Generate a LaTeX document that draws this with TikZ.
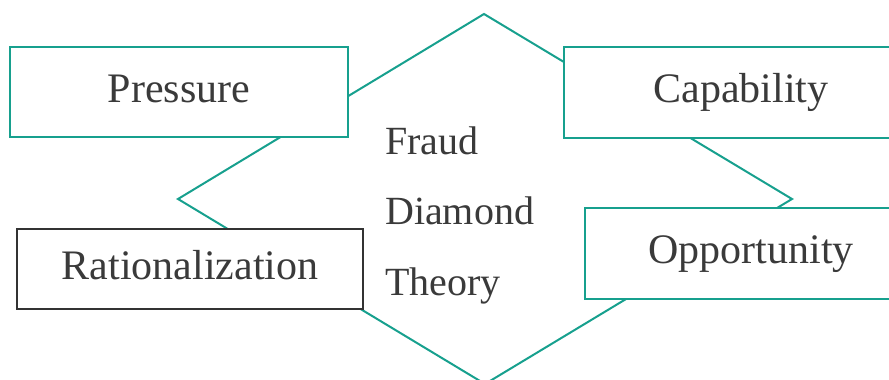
\documentclass[tikz,border=0pt]{standalone}
\usepackage{fontspec}
\setmainfont{Liberation Serif}
\definecolor{diamondline}{HTML}{17A08E}
\definecolor{ink}{HTML}{3A3A3A}
\definecolor{darkframe}{HTML}{333333}
\begin{document}
\begin{tikzpicture}[x=1pt,y=-1pt,
  box/.style={draw=diamondline, line width=2pt, fill=white, inner sep=0pt,
    text=ink, font=\fontsize{42}{50}\selectfont,
    text height=29pt, text depth=9pt, align=center},
  darkbox/.style={box, draw=darkframe, line width=1.5pt},
  label/.style={anchor=base west, inner sep=0pt, text=ink,
    font=\fontsize{40}{48}\selectfont},
]
\clip (0,0) rectangle (889,380);

% the fraud diamond
\coordinate (dtop) at (484,14);
\coordinate (dright) at (792,199);
\coordinate (dbottom) at (485,384);
\coordinate (dleft) at (178,199);
\draw[diamondline, line width=2pt, line join=miter]
  (dtop) -- (dright) -- (dbottom) -- (dleft) -- cycle;

% the four elements
\node[box, minimum width=338pt, minimum height=90pt] (pressure) at (179,92) {Pressure};
\node[box, minimum width=354pt, minimum height=91pt] (capability) at (741,92) {Capability};
\node[darkbox, minimum width=346pt, minimum height=80pt] (rationalization) at (190,269) {Rationalization};
\node[box, minimum width=332pt, minimum height=91pt] (opportunity) at (751,253.5) {Opportunity};

% title in the middle
\node[label] (fraud) at (385,154) {Fraud};
\node[label] (diamond) at (385,224) {Diamond};
\node[label] (theory) at (385,295) {Theory};
\end{tikzpicture}
\end{document}
